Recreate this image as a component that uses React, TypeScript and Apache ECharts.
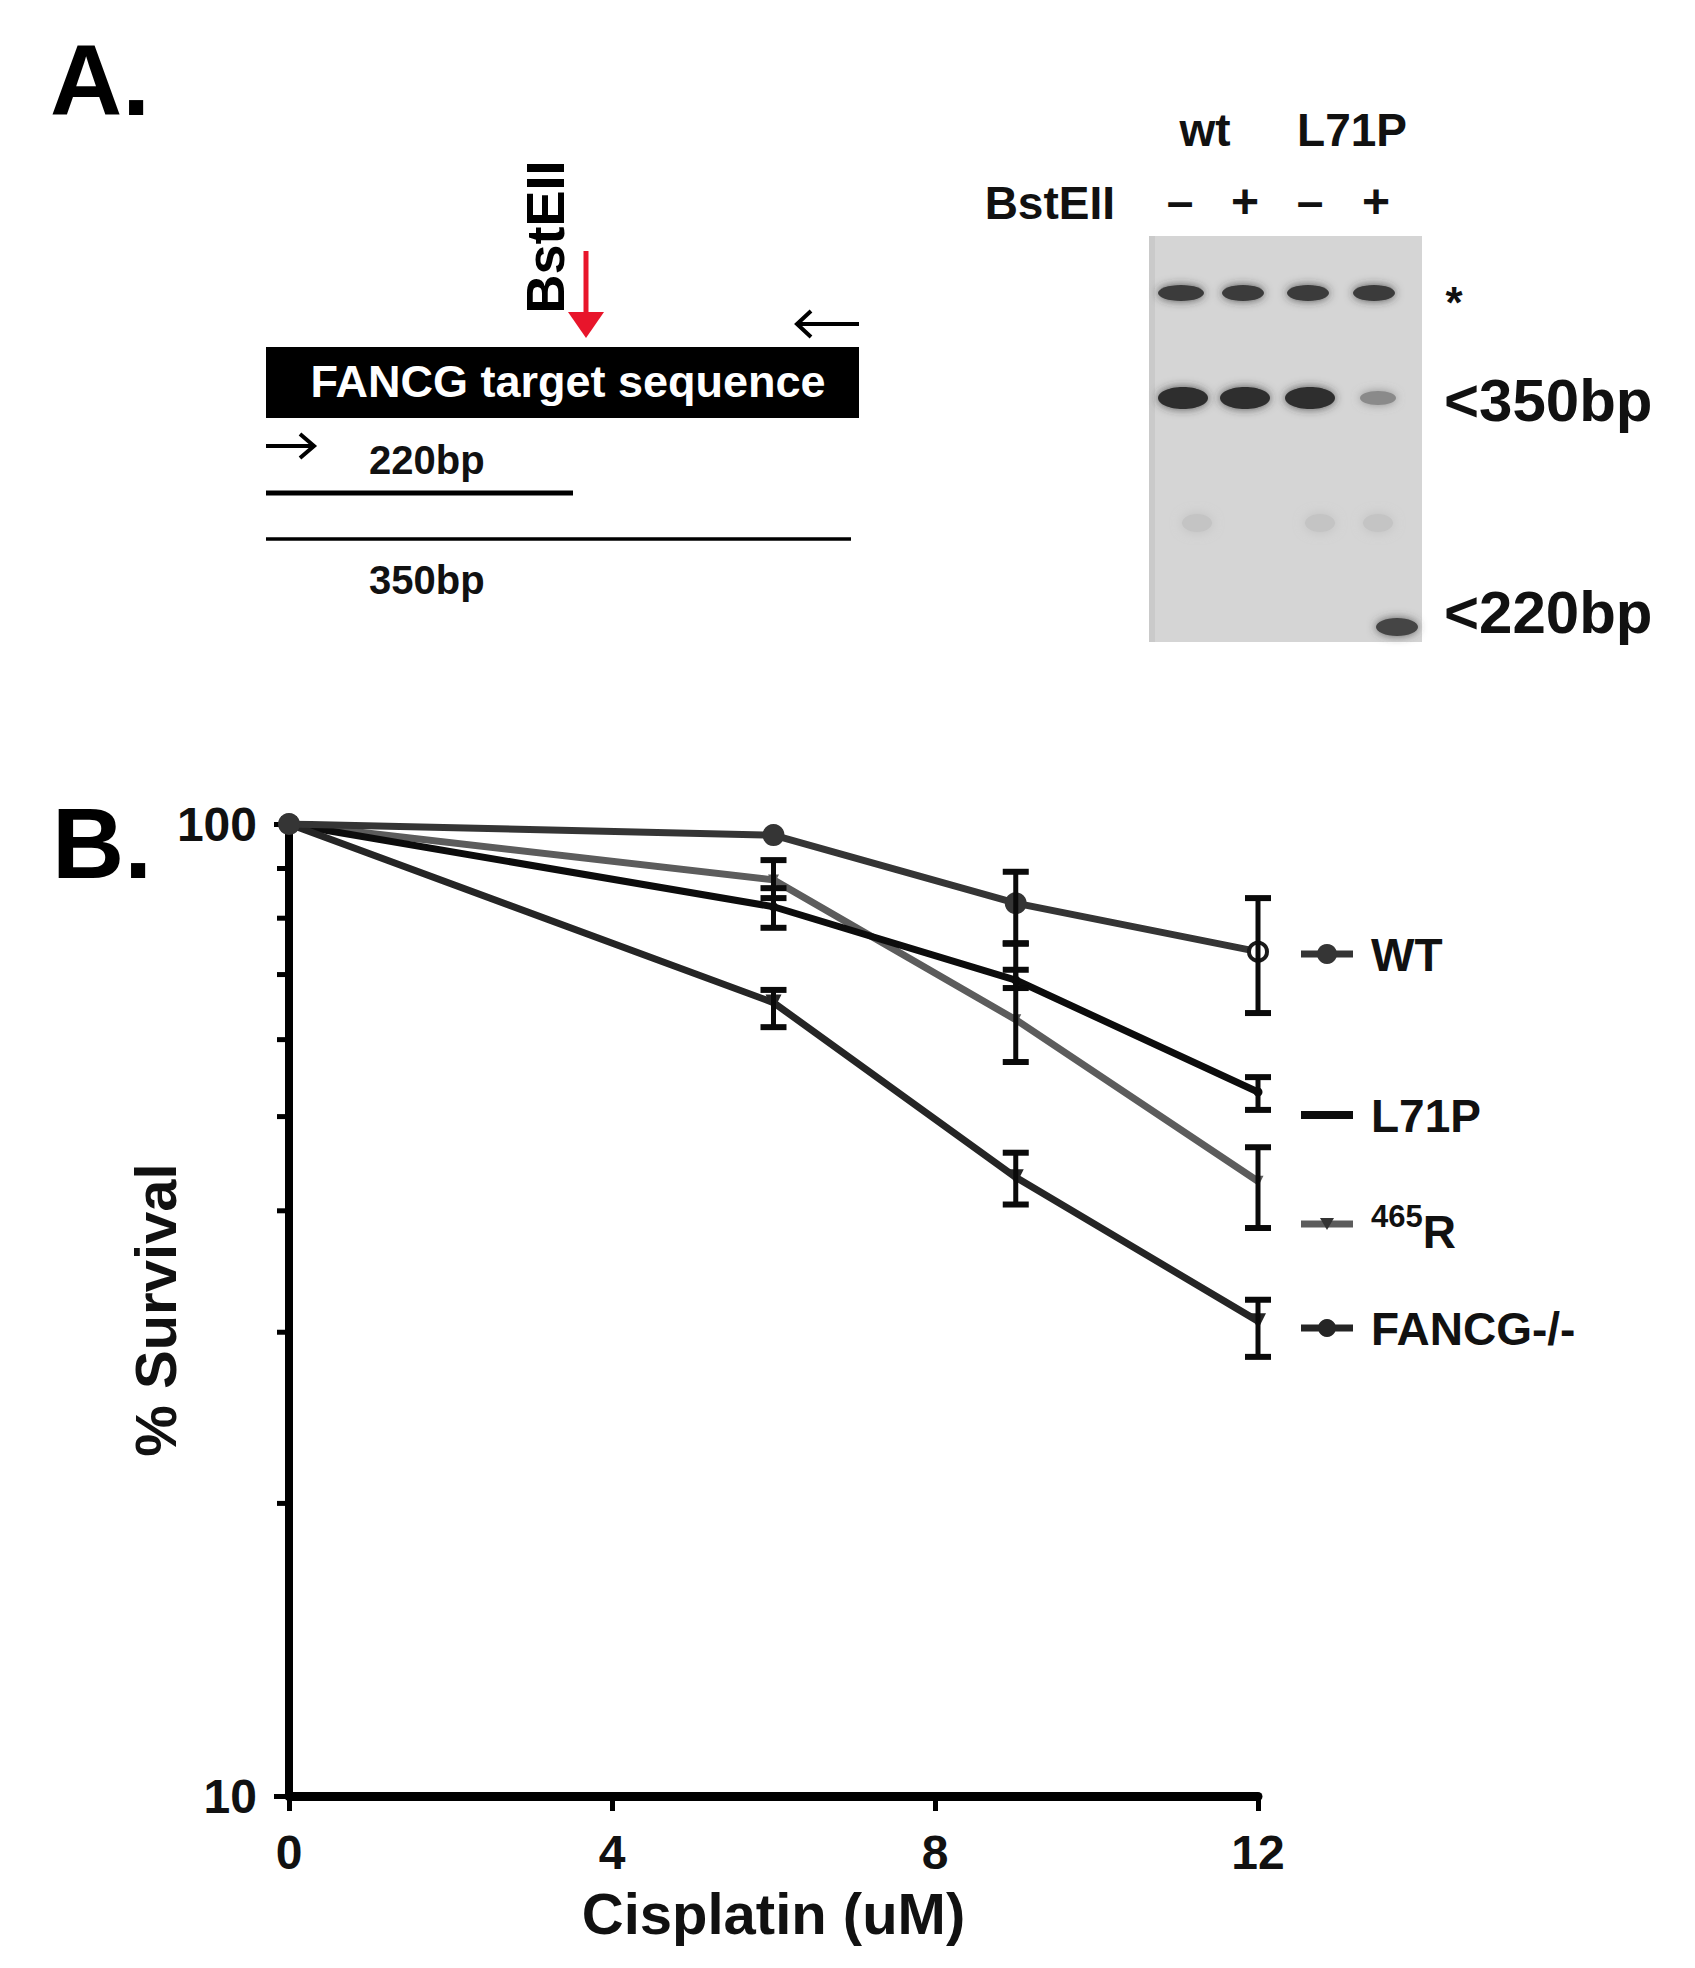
import React, { useEffect, useRef } from "react";
import * as echarts from "echarts";

const FONT = "'Liberation Sans', Arial, Helvetica, sans-serif";

// ---- Panel B data ----
const doses = [0, 6, 9, 12];
const seriesNames = ["WT", "L71P", "465R", "FANCG-/-"];

const wtSurvival = [100, 97.4, 82.9, 73.9];
const wtLow = [null, null, 75.4, 63.9];
const wtHigh = [null, null, 89.3, 83.9];

const l71pSurvival = [100, 82.2, 69.1, 53.0];
const l71pLow = [null, 78.2, 67.8, 50.8];
const l71pHigh = [null, 85.9, 70.8, 54.9];

const r465Survival = [100, 87.6, 62.9, 42.9];
const r465Low = [null, 83.9, 56.9, 38.4];
const r465High = [null, 91.8, 75.3, 46.5];

const fancgSurvival = [100, 65.5, 43.3, 30.8];
const fancgLow = [null, 61.8, 40.6, 28.3];
const fancgHigh = [null, 67.5, 45.9, 32.4];

const minorTickValues = [20, 30, 40, 50, 60, 70, 80, 90];

// ---- Panel A texts ----
const gelLanes = ["wt", "L71P"];
const enzymeRow = ["–", "+", "–", "+"];
const bandLabels = ["*", "<350bp", "<220bp"];
const fragmentLabels = ["220bp", "350bp"];

const lineColors = ["#353535", "#0c0c0c", "#5c5c5c", "#252525"];

function pts(vals: number[]) {
  return doses.map((d, i) => [d, vals[i]]);
}
function errs(lo: (number | null)[], hi: (number | null)[]) {
  const out: number[][] = [];
  doses.forEach((d, i) => {
    if (lo[i] != null && hi[i] != null) out.push([d, lo[i] as number, hi[i] as number]);
  });
  return out;
}

function errorBarSeries(data: number[][]) {
  return {
    type: "custom",
    z: 5,
    silent: true,
    data,
    renderItem: (params: any, api: any) => {
      const x = api.value(0);
      const lo = api.value(1);
      const hi = api.value(2);
      const a = api.coord([x, hi]);
      const b = api.coord([x, lo]);
      const w = 13;
      const st = { stroke: "#0a0a0a", lineWidth: 6 };
      return {
        type: "group",
        children: [
          { type: "line", shape: { x1: a[0], y1: a[1], x2: b[0], y2: b[1] }, style: { stroke: "#0a0a0a", lineWidth: 5 } },
          { type: "line", shape: { x1: a[0] - w, y1: a[1], x2: a[0] + w, y2: a[1] }, style: st },
          { type: "line", shape: { x1: b[0] - w, y1: b[1], x2: b[0] + w, y2: b[1] }, style: st },
        ],
      };
    },
  };
}

export default function App() {
  const ref = useRef<HTMLDivElement>(null);

  useEffect(() => {
    if (!ref.current) return;
    const chart = echarts.init(ref.current, undefined, { renderer: "svg" });

    const bold = { fontFamily: FONT, fontWeight: "bold" as const, fill: "#111" };

    const graphic: any[] = [
      // Panel letters
      { type: "text", left: 50, top: 30, style: { ...bold, text: "A.", fontSize: 100, fill: "#000" } },
      { type: "text", left: 52, top: 793, style: { ...bold, text: "B.", fontSize: 100, fill: "#000" } },

      // ---- Panel A: construct diagram ----
      { type: "rect", shape: { x: 266, y: 347, width: 593, height: 71 }, style: { fill: "#000" } },
      {
        type: "text", x: 568, y: 381,
        style: { ...bold, text: "FANCG target sequence", fontSize: 45, fill: "#fff", align: "center", verticalAlign: "middle" },
      },
      // BstEII vertical label
      {
        type: "text", x: 545, y: 237, rotation: Math.PI / 2,
        style: { ...bold, text: "BstEII", fontSize: 54, fill: "#000", align: "center", verticalAlign: "middle" },
      },
      // red cut arrow
      { type: "line", shape: { x1: 586, y1: 251, x2: 586, y2: 322 }, style: { stroke: "#e8152b", lineWidth: 5 } },
      { type: "polygon", shape: { points: [[568, 312], [604, 312], [586, 338]] }, style: { fill: "#e8152b" } },
      // reverse primer arrow
      { type: "line", shape: { x1: 797, y1: 324, x2: 859, y2: 324 }, style: { stroke: "#000", lineWidth: 4 } },
      { type: "polyline", shape: { points: [[811, 311], [797, 324], [811, 337]] }, style: { stroke: "#000", lineWidth: 4, fill: "none" } },
      // forward primer arrow
      { type: "line", shape: { x1: 266, y1: 446, x2: 313, y2: 446 }, style: { stroke: "#000", lineWidth: 4 } },
      { type: "polyline", shape: { points: [[300, 434], [314, 446], [300, 458]] }, style: { stroke: "#000", lineWidth: 4, fill: "none" } },
      // fragments
      { type: "text", x: 369, y: 460, style: { ...bold, text: fragmentLabels[0], fontSize: 40, verticalAlign: "middle" } },
      { type: "line", shape: { x1: 266, y1: 493, x2: 573, y2: 493 }, style: { stroke: "#000", lineWidth: 5 } },
      { type: "line", shape: { x1: 266, y1: 539, x2: 851, y2: 539 }, style: { stroke: "#000", lineWidth: 3.5 } },
      { type: "text", x: 369, y: 580, style: { ...bold, text: fragmentLabels[1], fontSize: 40, verticalAlign: "middle" } },

      // ---- Panel A: gel ----
      { type: "text", x: 1205, y: 130, style: { ...bold, text: gelLanes[0], fontSize: 46, align: "center", verticalAlign: "middle" } },
      { type: "text", x: 1352, y: 130, style: { ...bold, text: gelLanes[1], fontSize: 46, align: "center", verticalAlign: "middle" } },
      { type: "text", x: 1115, y: 203, style: { ...bold, text: "BstEII", fontSize: 46, align: "right", verticalAlign: "middle" } },
      ...enzymeRow.map((t, i) => ({
        type: "text", x: [1180, 1245, 1310, 1376][i], y: 201,
        style: { ...bold, text: t, fontSize: 48, align: "center", verticalAlign: "middle" },
      })),
      { type: "rect", shape: { x: 1149, y: 236, width: 273, height: 406 }, style: { fill: "#d5d5d5" } },
      { type: "rect", shape: { x: 1149, y: 236, width: 6, height: 406 }, style: { fill: "#cacaca" } },
      // * bands
      ...[1181, 1243, 1308, 1374].map((x, i) => ({
        type: "ellipse", shape: { cx: x, cy: 293, rx: i === 0 ? 23 : 21, ry: 8 },
        style: { fill: "#3a3a3a", shadowBlur: 10, shadowColor: "rgba(50,50,50,0.8)" },
      })),
      // 350bp bands
      ...[1183, 1245, 1310, 1378].map((x, i) => ({
        type: "ellipse", shape: { cx: x, cy: 398, rx: i === 3 ? 18 : 25, ry: i === 3 ? 7 : 11 },
        style: { fill: i === 3 ? "#8a8a8a" : "#2e2e2e", shadowBlur: 10, shadowColor: i === 3 ? "rgba(130,130,130,0.8)" : "rgba(50,50,50,0.8)" },
      })),
      // faint smudges
      ...[1197, 1320, 1378].map((x) => ({
        type: "ellipse", shape: { cx: x, cy: 523, rx: 15, ry: 9 },
        style: { fill: "#c4c4c4", shadowBlur: 12, shadowColor: "rgba(190,190,190,0.9)" },
      })),
      { type: "ellipse", shape: { cx: 1397, cy: 627, rx: 21, ry: 9 }, style: { fill: "#454545", shadowBlur: 10, shadowColor: "rgba(60,60,60,0.8)" } },
      // band labels
      { type: "text", x: 1454, y: 302, style: { ...bold, text: bandLabels[0], fontSize: 44, align: "center", verticalAlign: "middle" } },
      { type: "text", x: 1444, y: 400, style: { ...bold, text: bandLabels[1], fontSize: 60, verticalAlign: "middle" } },
      { type: "text", x: 1444, y: 612, style: { ...bold, text: bandLabels[2], fontSize: 60, verticalAlign: "middle" } },
    ];

    // ---- legend for panel B ----
    const legendY = [954, 1115, 1224, 1328];
    const legendSymbols = ["circle", "none", "triangle", "circle"];
    legendY.forEach((y, i) => {
      graphic.push({
        type: "line", shape: { x1: 1301, y1: y, x2: 1353, y2: y },
        style: { stroke: lineColors[i], lineWidth: i === 1 ? 8 : 7 },
      });
      if (legendSymbols[i] === "circle") {
        graphic.push({ type: "circle", shape: { cx: 1327, cy: y, r: i === 0 ? 10 : 9 }, style: { fill: lineColors[i] } });
      } else if (legendSymbols[i] === "triangle") {
        graphic.push({ type: "polygon", shape: { points: [[1320, y - 6], [1334, y - 6], [1327, y + 6]] }, style: { fill: "#333" } });
      }
      if (i === 2) {
        graphic.push({
          type: "text", x: 1371, y: y + 4,
          style: {
            text: "{s|465}{r|R}", fontFamily: FONT, fontWeight: "bold", verticalAlign: "middle",
            rich: {
              s: { fontSize: 31, fontWeight: "bold", fontFamily: FONT, fill: "#111", verticalAlign: "top", lineHeight: 54 },
              r: { fontSize: 46, fontWeight: "bold", fontFamily: FONT, fill: "#111", verticalAlign: "bottom", lineHeight: 54 },
            },
          },
        });
      } else {
        graphic.push({
          type: "text", x: 1371, y: y + 1,
          style: { ...bold, text: seriesNames[i], fontSize: 46, verticalAlign: "middle" },
        });
      }
    });

    const lineSeries = (name: string, vals: number[], color: string, symbol: string, size: number, rotate: number, z: number, extra: any = {}) => ({
      name,
      type: "line",
      data: pts(vals),
      symbol,
      symbolSize: size,
      symbolRotate: rotate,
      showSymbol: true,
      z,
      lineStyle: { color, width: 7 },
      itemStyle: { color, borderWidth: 0 },
      ...extra,
    });

    const wtData: any[] = pts(wtSurvival).map((p, i) =>
      i === 3 ? { value: p, itemStyle: { color: "#fff", borderColor: "#1a1a1a", borderWidth: 4 }, symbolSize: 18 } : { value: p }
    );

    const option: any = {
      animation: false,
      backgroundColor: "#ffffff",
      textStyle: { fontFamily: FONT },
      grid: { left: 289, top: 824, width: 969, height: 972, containLabel: false },
      xAxis: {
        type: "value",
        min: 0,
        max: 12,
        interval: 4,
        name: "Cisplatin (uM)",
        nameLocation: "middle",
        nameGap: 88,
        nameMoveOverlap: false,
        nameTextStyle: { fontSize: 58, fontWeight: "bold", color: "#111", fontFamily: FONT },
        axisLine: { onZero: false, lineStyle: { color: "#000", width: 9 } },
        axisTick: { show: true, inside: false, length: 15, lineStyle: { color: "#000", width: 5 } },
        axisLabel: { fontSize: 48, fontWeight: "bold", color: "#111", margin: 32, fontFamily: FONT },
        splitLine: { show: false },
      },
      yAxis: {
        type: "log",
        logBase: 10,
        min: 10,
        max: 100,
        name: "% Survival",
        nameLocation: "middle",
        nameGap: 105,
        nameMoveOverlap: false,
        nameRotate: 90,
        nameTextStyle: { fontSize: 58, fontWeight: "bold", color: "#111", fontFamily: FONT },
        axisLine: { show: true, onZero: false, lineStyle: { color: "#000", width: 8 } },
        axisTick: { show: true, inside: false, length: 15, lineStyle: { color: "#000", width: 5 } },
        axisLabel: { fontSize: 48, fontWeight: "bold", color: "#111", margin: 32, fontFamily: FONT },
        splitLine: { show: false },
      },
      graphic,
      series: [
        {
          type: "custom",
          silent: true,
          z: 1,
          data: minorTickValues.map((v) => [0, v]),
          renderItem: (params: any, api: any) => {
            const p = api.coord([api.value(0), api.value(1)]);
            return { type: "line", shape: { x1: p[0] - 12, y1: p[1], x2: p[0], y2: p[1] }, style: { stroke: "#000", lineWidth: 5 } };
          },
        },
        lineSeries(seriesNames[2], r465Survival, lineColors[2], "triangle", 11, 180, 2),
        lineSeries(seriesNames[1], l71pSurvival, lineColors[1], "circle", 9, 0, 3),
        lineSeries(seriesNames[3], fancgSurvival, lineColors[3], "triangle", 16, 180, 3),
        { ...lineSeries(seriesNames[0], wtSurvival, lineColors[0], "circle", 22, 0, 4), data: wtData },
        errorBarSeries(errs(wtLow, wtHigh)),
        errorBarSeries(errs(l71pLow, l71pHigh)),
        errorBarSeries(errs(r465Low, r465High)),
        errorBarSeries(errs(fancgLow, fancgHigh)),
      ],
    };

    chart.setOption(option);
    return () => chart.dispose();
  }, []);

  return (
    <div
      ref={ref}
      style={{ position: "absolute", left: 0, top: 0, width: 1695, height: 1968, background: "#fff" }}
    />
  );
}
